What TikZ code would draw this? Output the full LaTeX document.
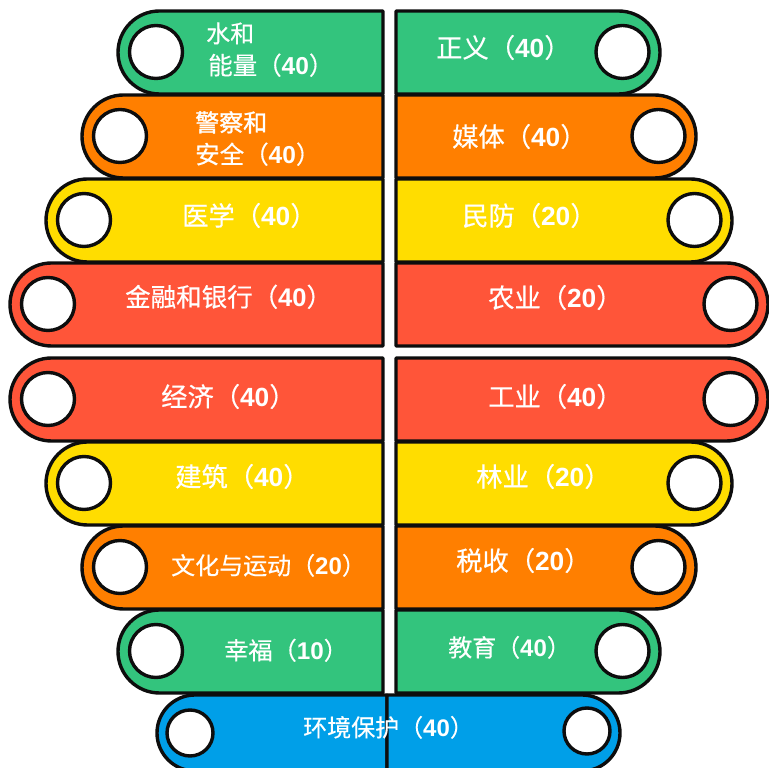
\documentclass[tikz,border=0pt]{standalone}
\usepackage{fontspec}
\setmainfont{Liberation Sans}
\newfontfamily\cjk[FakeBold=0.4]{Noto Sans CJK SC}
\newfontfamily\cjkb[FakeBold=1.2]{Noto Sans CJK SC}
\definecolor{cgreen}{HTML}{33C47D}
\definecolor{corange}{HTML}{FF7F00}
\definecolor{cyellow}{HTML}{FFDD00}
\definecolor{cred}{HTML}{FF5539}
\definecolor{cblue}{HTML}{009FE8}
\newcommand{\lb}[2]{{\cjk #1（}{\bfseries #2}{\cjk ）}}
\newcommand{\lpill}[4]{% left x, top y, colour, name
  \draw[pill,fill=#3] (383,{768-#2}) -- ({#1+41.5},{768-#2}) arc[start angle=90,end angle=270,radius=41.5] -- (383,{768-#2-83}) -- cycle;
  \node[hole] (#4) at ({#1+38},{768-#2-41}) {};}
\newcommand{\rpill}[4]{% right x, top y, colour, name
  \draw[pill,fill=#3] (396,{768-#2}) -- ({#1-41.5},{768-#2}) arc[start angle=90,end angle=-90,radius=41.5] -- (396,{768-#2-83}) -- cycle;
  \node[hole] (#4) at ({#1-37.5},{768-#2-41}) {};}
\tikzset{
  x=1pt,y=1pt,
  pill/.style={draw=black!95,line width=3.4pt,line join=round},
  hole/.style={circle,draw=black!95,fill=white,line width=3.4pt,minimum size=53pt,inner sep=0pt},
  lab/.style={text=white,font=\fontsize{#1}{24}\selectfont,anchor=west,inner sep=0pt,text height=18pt,text depth=4pt,yshift=-1.5pt},
  lab/.default=26.3
}
\begin{document}
\begin{tikzpicture}
\useasboundingbox (0,0) rectangle (769,768);
\lpill{118}{11}{cgreen}{h1}
\lpill{82}{95}{corange}{h2}
\lpill{46}{179}{cyellow}{h3}
\lpill{10}{263}{cred}{h4}
\lpill{10}{358}{cred}{h5}
\lpill{46}{442}{cyellow}{h6}
\lpill{82}{526}{corange}{h7}
\lpill{118}{610}{cgreen}{h8}
\rpill{660}{11}{cgreen}{k1}
\rpill{696}{95}{corange}{k2}
\rpill{732}{179}{cyellow}{k3}
\rpill{768}{263}{cred}{k4}
\rpill{768}{358}{cred}{k5}
\rpill{732}{442}{cyellow}{k6}
\rpill{696}{526}{corange}{k7}
\rpill{660}{610}{cgreen}{k8}
% bottom pill
\draw[pill,fill=cblue] (387,73) -- (195,73) arc[start angle=90,end angle=270,radius=38] -- (387,-3) -- cycle;
\draw[pill,fill=cblue] (387,73) -- (582,73) arc[start angle=90,end angle=-90,radius=38] -- (387,-3) -- cycle;
\node[hole,minimum size=46pt] (b1) at (190,35) {};
\node[hole,minimum size=46pt] (b2) at (587,37) {};
% labels
\node[lab=24] (t1a) at (206,734) {\cjk 水和};
\node[lab=24.5] (t1b) at (208,702) {\lb{能量}{40}};
\node[lab=24] (t2a) at (195,645) {\cjkb 警察和};
\node[lab=24.5] (t2b) at (195,613) {\lb{安全}{40}};
\node[lab] (t3) at (182,551) {\lb{医学}{40}};
\node[lab=25.5] (t4) at (125,470) {\lb{金融和银行}{40}};
\node[lab] (t5) at (161,370) {\lb{经济}{40}};
\node[lab] (t6) at (175,290) {\lb{建筑}{40}};
\node[lab=24] (t7) at (171,202) {\lb{文化与运动}{20}};
\node[lab=24.2] (t8) at (224,117) {\lb{幸福}{10}};
\node[lab] (u1) at (436,719) {\lb{正义}{40}};
\node[lab] (u2) at (452,630) {\lb{媒体}{40}};
\node[lab] (u3) at (462,551) {\lb{民防}{20}};
\node[lab] (u4) at (488,469) {\lb{农业}{20}};
\node[lab] (u5) at (488,370) {\lb{工业}{40}};
\node[lab] (u6) at (476,290) {\lb{林业}{20}};
\node[lab] (u7) at (456,206) {\lb{税收}{20}};
\node[lab=24] (u8) at (448,120) {\lb{教育}{40}};
\node[lab=24] (v) at (303,40) {\lb{环境保护}{40}};
\end{tikzpicture}
\end{document}
